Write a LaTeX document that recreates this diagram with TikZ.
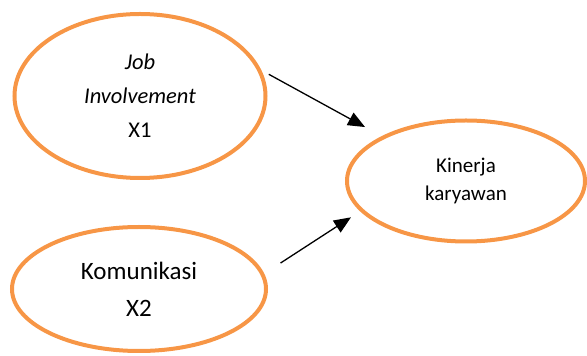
\documentclass[tikz,border=0pt]{standalone}
\usepackage{fontspec}
\setmainfont{Carlito}
\usepackage{xcolor}
\usepackage{tikz}
\usetikzlibrary{shapes.geometric,arrows.meta}
\definecolor{varorange}{HTML}{F79646}

\begin{document}
\begin{tikzpicture}[x=1pt, y=1pt,
  var/.style={ellipse, draw=varorange, line width=4pt, inner sep=0pt, align=center},
  arr/.style={line width=1.3pt, -{Triangle[length=17pt,width=14pt]}}]
\useasboundingbox (0,0) rectangle (587,356);
\node[var, minimum width=251pt, minimum height=164pt, font=\fontsize{22.5}{34}\selectfont] (job) at (140,260) {\textit{Job}\\\textit{Involvement}\\X1};
\node[var, minimum width=254pt, minimum height=124pt, font=\fontsize{25}{37}\selectfont] (kom) at (139,67) {Komunikasi\\X2};
\node[var, minimum width=238pt, minimum height=121pt, font=\fontsize{21}{28}\selectfont] (kin) at (466,175) {Kinerja\\karyawan};
\draw[arr, shorten <=8.5pt, shorten >=19pt] (job.12) -- (kin.152);
\draw[arr, shorten <=19.5pt, shorten >=11pt] (kom.7.5) -- (kin.196);
\end{tikzpicture}
\end{document}
